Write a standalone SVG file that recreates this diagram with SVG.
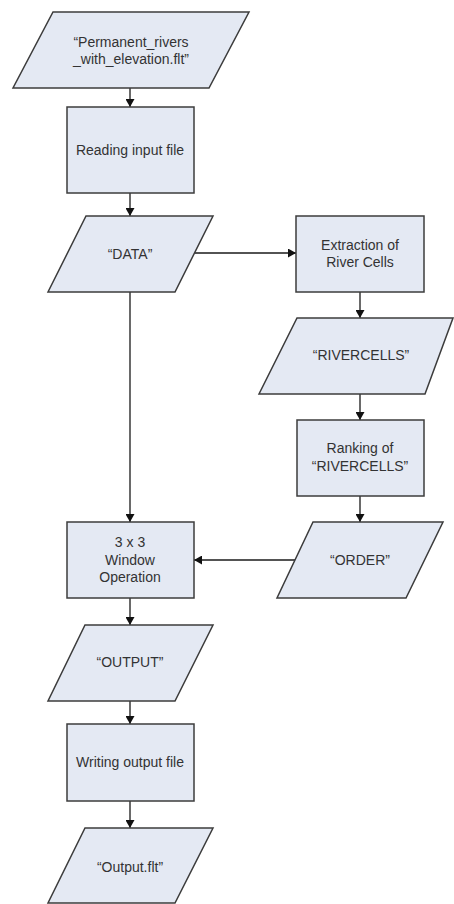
<svg xmlns="http://www.w3.org/2000/svg" width="454" height="904" viewBox="0 0 454 904">
<style>
.shape{fill:#e4e9f3;stroke:#3c3c3c;stroke-width:1.5}
.lbl{font-family:"Liberation Sans",Arial,sans-serif;font-size:14px;fill:#333;text-anchor:middle;dominant-baseline:central}
.conn{fill:none;stroke:#1a1a1a;stroke-width:1.3}
</style>
<defs>
<marker id="ah" markerWidth="9" markerHeight="9" refX="8" refY="4.5" orient="auto" markerUnits="userSpaceOnUse">
<path d="M0,0 L8,4.5 L0,9 Z" fill="#111"/>
</marker>
</defs>
<rect width="454" height="904" fill="#fff"/>
<g id="connectors">
<line class="conn" x1="130" y1="88" x2="130" y2="107" marker-end="url(#ah)"/>
<line class="conn" x1="130" y1="193" x2="130" y2="216" marker-end="url(#ah)"/>
<line class="conn" x1="195" y1="253" x2="296" y2="253" marker-end="url(#ah)"/>
<line class="conn" x1="360" y1="292" x2="360" y2="318" marker-end="url(#ah)"/>
<line class="conn" x1="360" y1="394" x2="360" y2="420" marker-end="url(#ah)"/>
<line class="conn" x1="360" y1="496" x2="360" y2="522" marker-end="url(#ah)"/>
<line class="conn" x1="130" y1="292" x2="130" y2="522" marker-end="url(#ah)"/>
<line class="conn" x1="296" y1="560" x2="194" y2="560" marker-end="url(#ah)"/>
<line class="conn" x1="130" y1="598" x2="130" y2="625" marker-end="url(#ah)"/>
<line class="conn" x1="130" y1="701" x2="130" y2="724" marker-end="url(#ah)"/>
<line class="conn" x1="130" y1="801" x2="130" y2="828" marker-end="url(#ah)"/>
</g>
<g id="input-file">
<polygon class="shape" points="53,12 249,12 209,88 13,88"/>
<text class="lbl" x="131" y="42">“Permanent_rivers</text>
<text class="lbl" x="131" y="59">_with_elevation.flt”</text>
</g>
<g id="reading">
<rect class="shape" x="67" y="107" width="127" height="86"/>
<text class="lbl" x="130" y="150">Reading input file</text>
</g>
<g id="data">
<polygon class="shape" points="86,216 213,216 175,292 48,292"/>
<text class="lbl" x="130" y="254">“DATA”</text>
</g>
<g id="extraction">
<rect class="shape" x="296" y="216" width="128" height="76"/>
<text class="lbl" x="360" y="245">Extraction of</text>
<text class="lbl" x="360" y="262">River Cells</text>
</g>
<g id="rivercells">
<polygon class="shape" points="297,318 453,318 425,394 259,394"/>
<text class="lbl" x="361" y="355">“RIVERCELLS”</text>
</g>
<g id="ranking">
<rect class="shape" x="297" y="420" width="127" height="76"/>
<text class="lbl" x="360" y="448">Ranking of</text>
<text class="lbl" x="360" y="466">“RIVERCELLS”</text>
</g>
<g id="order">
<polygon class="shape" points="313,522 443,522 406,598 277,598"/>
<text class="lbl" x="360" y="560">“ORDER”</text>
</g>
<g id="window">
<rect class="shape" x="67" y="522" width="127" height="76"/>
<text class="lbl" x="130" y="542">3 x 3</text>
<text class="lbl" x="130" y="560">Window</text>
<text class="lbl" x="130" y="577">Operation</text>
</g>
<g id="output">
<polygon class="shape" points="85,625 213,625 175,701 48,701"/>
<text class="lbl" x="130" y="662">“OUTPUT”</text>
</g>
<g id="writing">
<rect class="shape" x="67" y="724" width="127" height="77"/>
<text class="lbl" x="130" y="762">Writing output file</text>
</g>
<g id="output-flt">
<polygon class="shape" points="85,828 213,828 175,903 48,903"/>
<text class="lbl" x="130" y="867">“Output.flt”</text>
</g>
</svg>
